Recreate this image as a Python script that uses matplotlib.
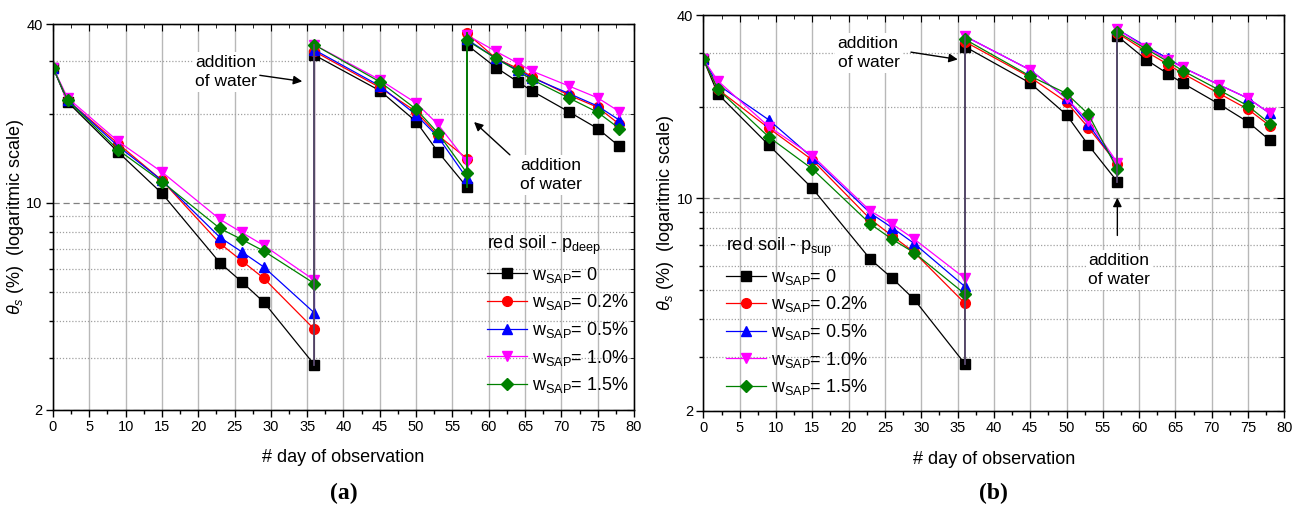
import matplotlib
matplotlib.use('Agg')
import matplotlib.pyplot as plt
from matplotlib.ticker import FixedLocator, MultipleLocator, NullFormatter, FixedFormatter

plt.rcParams['font.family'] = ['Liberation Sans', 'DejaVu Sans']
plt.rcParams['mathtext.fontset'] = 'custom'
plt.rcParams['mathtext.rm'] = 'Liberation Sans'
plt.rcParams['mathtext.it'] = 'Liberation Sans:italic'

# days of observation (36 and 57 repeated: before / after addition of water)
days = [0, 2, 9, 15, 23, 26, 29, 36, 36, 45, 50, 53, 57, 57, 61, 64, 66, 71, 75, 78]

labels = ['w$_{\\mathrm{SAP}}$= 0', 'w$_{\\mathrm{SAP}}$= 0.2%', 'w$_{\\mathrm{SAP}}$= 0.5%',
          'w$_{\\mathrm{SAP}}$= 1.0%', 'w$_{\\mathrm{SAP}}$= 1.5%']
colors = ['black', '#ff0000', '#0000ff', '#ff00ff', '#008000']
markers = ['s', 'o', '^', 'v', 'D']

# (a) red soil - p_deep
a_w0 = [28.6, 21.9, 14.8, 10.76, 6.27, 5.41, 4.63, 2.84, 31.5, 23.9, 18.8, 14.87, 11.3, 34.1, 28.6, 25.6, 23.8, 20.3, 17.8, 15.5]
a_w02 = [28.6, 22.2, 15.8, 11.9, 7.29, 6.37, 5.57, 3.74, 32.4, 24.5, 20.3, 16.9, 14.1, 37.3, 30.7, 28.4, 26.6, 23.1, 21.0, 18.4]
a_w05 = [28.6, 22.2, 15.5, 11.9, 7.64, 6.83, 6.08, 4.25, 32.8, 24.8, 19.8, 16.7, 12.1, 35.6, 30.7, 28.0, 26.4, 23.4, 21.2, 19.0]
a_w10 = [28.6, 22.6, 16.1, 12.7, 8.79, 7.94, 7.19, 5.48, 34.1, 26.0, 21.7, 18.4, 13.76, 36.8, 32.4, 29.6, 27.8, 24.8, 22.6, 20.3]
a_w15 = [28.6, 22.2, 15.06, 11.78, 8.19, 7.52, 6.88, 5.34, 34.1, 25.6, 20.7, 17.2, 12.6, 35.3, 30.7, 27.8, 26.0, 22.6, 20.2, 17.8]

# (b) red soil - p_sup
b_w0 = [28.6, 22.0, 14.96, 10.78, 6.30, 5.46, 4.66, 2.86, 31.5, 23.9, 18.8, 14.96, 11.34, 34.1, 28.5, 25.6, 23.9, 20.4, 17.8, 15.5]
b_w02 = [28.6, 22.8, 17.0, 13.36, 8.53, 7.52, 6.65, 4.52, 32.7, 24.98, 20.7, 17.06, 12.96, 34.9, 30.3, 27.5, 25.7, 22.1, 19.6, 17.3]
b_w05 = [28.6, 23.6, 18.1, 13.6, 8.93, 8.0, 7.11, 5.13, 34.1, 26.4, 21.3, 17.5, 12.9, 35.9, 31.5, 28.8, 26.9, 23.6, 21.3, 19.0]
b_w10 = [28.6, 24.3, 17.2, 13.8, 9.08, 8.23, 7.35, 5.46, 34.1, 26.4, 21.3, 17.96, 13.1, 35.9, 31.2, 28.5, 26.9, 23.6, 21.3, 19.0]
b_w15 = [28.6, 22.8, 15.9, 12.48, 8.23, 7.33, 6.63, 4.85, 33.3, 25.2, 22.1, 18.9, 12.45, 35.2, 30.9, 28.1, 26.25, 22.7, 20.1, 17.6]

fig = plt.figure(figsize=(13.05, 5.11), dpi=100)
ax_a = fig.add_axes([0.0406, 0.1977, 0.4452, 0.7547])
ax_b = fig.add_axes([0.5390, 0.1957, 0.4452, 0.7749])


def setup_axes(ax):
    ax.set_yscale('log')
    ax.set_xlim(0, 80)
    ax.set_ylim(2, 40)
    ax.xaxis.set_major_locator(MultipleLocator(5))
    ax.xaxis.set_minor_locator(MultipleLocator(2.5))
    ax.yaxis.set_major_locator(FixedLocator([2, 10, 40]))
    ax.yaxis.set_major_formatter(FixedFormatter(['2', '10', '40']))
    ax.yaxis.set_minor_locator(FixedLocator([3, 4, 5, 6, 7, 8, 9, 20, 30]))
    ax.yaxis.set_minor_formatter(NullFormatter())
    ax.tick_params(which='major', direction='out', length=5, width=1, labelsize=10.5, pad=2.5)
    ax.tick_params(which='minor', direction='out', length=3, width=1)
    ax.grid(axis='x', which='major', color='#b8b8b8', lw=1.0, ls='-')
    ax.grid(axis='y', which='major', color='#808080', lw=0.9, ls=(0, (5, 3)))
    ax.grid(axis='y', which='minor', color='#a0a0a0', lw=0.9, ls=(0, (1, 1.5)))
    ax.set_axisbelow(True)
    for s in ax.spines.values():
        s.set_linewidth(1.0)
    ax.set_xlabel('# day of observation', fontsize=13)
    ax.set_ylabel('$\\theta_s$ (%)  (logaritmic scale)', fontsize=13)
    ax.xaxis.set_label_coords(0.5, -0.10)
    ax.yaxis.set_label_coords(-0.047, 0.5)

    # mirrored ticks pointing inward on top and right
    top = ax.twiny()
    top.set_xlim(0, 80)
    top.xaxis.set_major_locator(MultipleLocator(5))
    top.xaxis.set_minor_locator(MultipleLocator(2.5))
    top.tick_params(which='both', direction='in', labeltop=False)
    top.tick_params(which='major', length=5)
    top.tick_params(which='minor', length=3)
    right = ax.twinx()
    right.set_yscale('log')
    right.set_ylim(2, 40)
    right.yaxis.set_major_locator(FixedLocator([2, 10, 40]))
    right.yaxis.set_minor_locator(FixedLocator([3, 4, 5, 6, 7, 8, 9, 20, 30]))
    right.tick_params(which='both', direction='in', labelright=False)
    right.tick_params(which='major', length=5)
    right.tick_params(which='minor', length=3)


def draw_series(ax, series):
    for vals, c, m, lab in zip(series, colors, markers, labels):
        ms = 6.5 if m == 'D' else 7
        ax.plot(days, vals, color=c, marker=m, ms=ms, lw=0.9, label=lab, zorder=3)


setup_axes(ax_a)
setup_axes(ax_b)

series_a = [a_w0, a_w02, a_w05, a_w10, a_w15]
series_b = [b_w0, b_w02, b_w05, b_w10, b_w15]
draw_series(ax_a, series_a)
draw_series(ax_b, series_b)

# vertical jumps (addition of water) drawn as they appear
jump_idx = [7, 12]
for ax, series, jcols in [(ax_a, series_a, ['#594a6e', '#008000']),
                          (ax_b, series_b, ['#594a6e', '#594a6e'])]:
    for i, jc in zip(jump_idx, jcols):
        lo = min(s[i] for s in series)
        hi = max(s[i + 1] for s in series)
        ax.plot([days[i], days[i]], [lo, hi], color=jc, lw=1.3, zorder=3.5)

txt_kw = dict(fontsize=12.5, ha='left', va='center', linespacing=1.35,
              bbox=dict(fc='white', ec='none', pad=2), zorder=4)
arr_kw = dict(arrowstyle='-|>', color='black', lw=1.0, mutation_scale=13)

ax_a.text(19.6, 27.6, 'addition\nof water', **txt_kw)
ax_a.annotate('', xy=(34.7, 25.6), xytext=(28.1, 27.0), arrowprops=arr_kw, zorder=4)
ax_a.text(64.3, 12.4, 'addition\nof water', **txt_kw)
ax_a.annotate('', xy=(57.7, 19.0), xytext=(63.2, 14.3), arrowprops=arr_kw, zorder=4)

ax_b.text(18.5, 30.0, 'addition\nof water', **txt_kw)
ax_b.annotate('', xy=(35.4, 28.5), xytext=(28.2, 30.3), arrowprops=arr_kw, zorder=4)
ax_b.text(53.0, 5.81, 'addition\nof water', **txt_kw)
ax_b.annotate('', xy=(57.0, 10.25), xytext=(57.0, 7.39), arrowprops=arr_kw, zorder=4)

leg_kw = dict(frameon=False, fontsize=13, title_fontsize=13, handlelength=2.2,
              labelspacing=0.42, handletextpad=0.3, borderaxespad=0, alignment='left')
leg_a = ax_a.legend(title='red soil - p$_{\\mathrm{deep}}$', loc='upper left',
                    bbox_to_anchor=(0.735, 0.475), **leg_kw)
leg_b = ax_b.legend(title='red soil - p$_{\\mathrm{sup}}$', loc='upper left',
                    bbox_to_anchor=(0.027, 0.46), **leg_kw)

fig.text(0.2632, 0.035, '(a)', fontsize=17, fontweight='bold', family='Liberation Serif',
         ha='center', va='center')
fig.text(0.7615, 0.035, '(b)', fontsize=17, fontweight='bold', family='Liberation Serif',
         ha='center', va='center')

fig.savefig('out.png', dpi=100)
